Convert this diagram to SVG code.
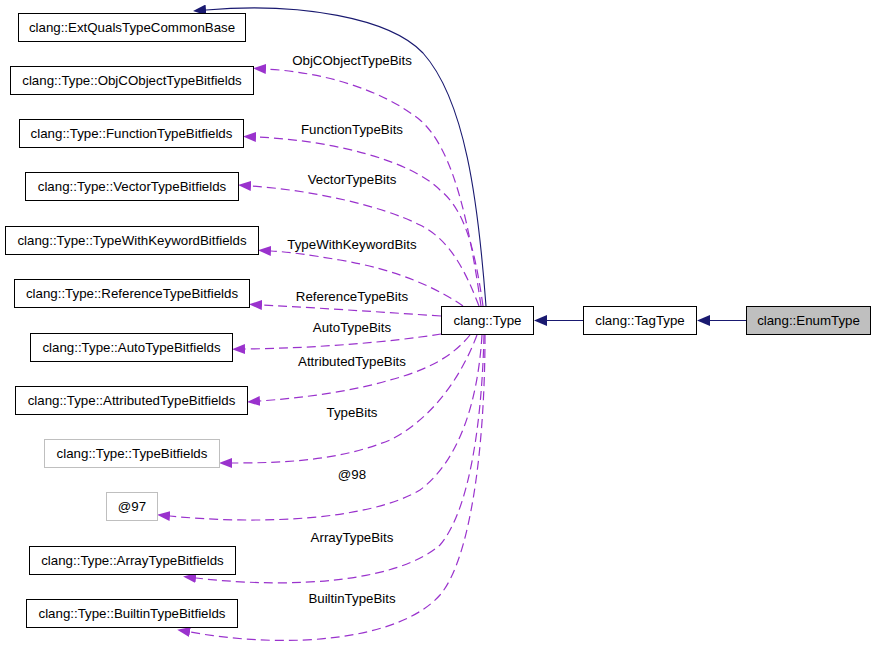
<svg xmlns="http://www.w3.org/2000/svg" width="877" height="651" viewBox="0 0 877 651">
<style>
text{font-family:"Liberation Sans",Arial,sans-serif;font-size:13.3px;fill:#000}
.n{text-anchor:middle}
.l{text-anchor:middle}
.b{fill:#fff;stroke:#000;stroke-width:1}
.g{fill:#fff;stroke:#bfbfbf;stroke-width:1}
.u{fill:none;stroke:#9a32cd;stroke-width:1.2;stroke-dasharray:9,5}
.s{fill:none;stroke:#191970;stroke-width:1.1}
</style>
<defs>
<marker id="ap" markerUnits="userSpaceOnUse" viewBox="0 0 13 10" refX="0" refY="5" markerWidth="13" markerHeight="10" orient="auto">
<path d="M0,0 L13,5 L0,10 z" fill="#9a32cd"/>
</marker>
<marker id="ab" markerUnits="userSpaceOnUse" viewBox="0 0 13 11" refX="0" refY="5.5" markerWidth="13" markerHeight="11" orient="auto">
<path d="M0,0 L13,5.5 L0,11 z" fill="#191970"/>
</marker>
</defs>
<rect width="877" height="651" fill="#fff"/>
<g id="edges">
<path class="s" marker-end="url(#ab)" d="M486,306 C478,200 465,100 423,53 C390,18 300,2 206,10"/>
<path class="s" marker-end="url(#ab)" d="M746,320.5 L710,320.5"/>
<path class="s" marker-end="url(#ab)" d="M583,320.5 L547,320.5"/>
<path class="u" marker-end="url(#ap)" d="M481,306 C470,230 455,150 420,120 C380,88 320,72 266,69"/>
<path class="u" marker-end="url(#ap)" d="M483,306 C475,250 465,210 440,190 C410,160 330,140 256,137"/>
<path class="u" marker-end="url(#ap)" d="M479,306 C465,270 450,240 420,225 C380,205 310,190 251,186"/>
<path class="u" marker-end="url(#ap)" d="M463,306 C440,290 400,270 340,260 C310,255 290,252 271,251"/>
<path class="u" marker-end="url(#ap)" d="M441,316 C380,312 320,308 262,305"/>
<path class="u" marker-end="url(#ap)" d="M441,334 C390,342 320,348 245,349"/>
<path class="u" marker-end="url(#ap)" d="M470,335 C450,360 420,372 390,380 C350,392 300,398 260,401"/>
<path class="u" marker-end="url(#ap)" d="M477,335 C460,380 430,420 390,440 C340,460 290,463 232,463"/>
<path class="u" marker-end="url(#ap)" d="M482,335 C478,400 460,460 420,490 C370,520 260,525 170,516"/>
<path class="u" marker-end="url(#ap)" d="M484,335 C482,420 470,510 440,545 C400,580 300,590 196,578"/>
<path class="u" marker-end="url(#ap)" d="M485,335 C485,450 470,560 440,595 C400,640 290,650 190,632"/>
<text class="l" x="352" y="65">ObjCObjectTypeBits</text>
<text class="l" x="352" y="133.5">FunctionTypeBits</text>
<text class="l" x="352" y="184">VectorTypeBits</text>
<text class="l" x="352" y="249">TypeWithKeywordBits</text>
<text class="l" x="352" y="300.5">ReferenceTypeBits</text>
<text class="l" x="352" y="332">AutoTypeBits</text>
<text class="l" x="352" y="365.5">AttributedTypeBits</text>
<text class="l" x="352" y="417">TypeBits</text>
<text class="l" x="352" y="479">@98</text>
<text class="l" x="352" y="541.5">ArrayTypeBits</text>
<text class="l" x="352" y="602.5">BuiltinTypeBits</text>
</g>
<g id="node-enumtype"><rect x="746.5" y="306.5" width="124" height="28" fill="#bfbfbf" stroke="#000"/><text class="n" x="808.5" y="325">clang::EnumType</text></g>
<g id="node-tagtype"><rect class="b" x="583.5" y="306.5" width="113" height="28"/><text class="n" x="640" y="325">clang::TagType</text></g>
<g id="node-type"><rect class="b" x="441.5" y="306.5" width="92" height="28"/><text class="n" x="487.5" y="325">clang::Type</text></g>
<g id="node-extquals"><rect class="b" x="18.5" y="13.5" width="227" height="28"/><text class="n" x="132" y="32">clang::ExtQualsTypeCommonBase</text></g>
<g id="node-objc"><rect class="b" x="10.5" y="66.5" width="243" height="28"/><text class="n" x="132" y="85">clang::Type::ObjCObjectTypeBitfields</text></g>
<g id="node-function"><rect class="b" x="19.5" y="119.5" width="224" height="28"/><text class="n" x="131.5" y="138">clang::Type::FunctionTypeBitfields</text></g>
<g id="node-vector"><rect class="b" x="25.5" y="172.5" width="213" height="28"/><text class="n" x="132" y="191">clang::Type::VectorTypeBitfields</text></g>
<g id="node-typewithkeyword"><rect class="b" x="5.5" y="226.5" width="253" height="28"/><text class="n" x="132" y="245">clang::Type::TypeWithKeywordBitfields</text></g>
<g id="node-reference"><rect class="b" x="14.5" y="279.5" width="235" height="28"/><text class="n" x="132" y="298">clang::Type::ReferenceTypeBitfields</text></g>
<g id="node-auto"><rect class="b" x="30.5" y="333.5" width="202" height="28"/><text class="n" x="131.5" y="352">clang::Type::AutoTypeBitfields</text></g>
<g id="node-attributed"><rect class="b" x="15.5" y="386.5" width="232" height="28"/><text class="n" x="131.5" y="405">clang::Type::AttributedTypeBitfields</text></g>
<g id="node-typebitfields"><rect class="g" x="44.5" y="439.5" width="175" height="28"/><text class="n" x="132" y="458">clang::Type::TypeBitfields</text></g>
<g id="node-97"><rect class="g" x="106.5" y="492.5" width="51" height="28"/><text class="n" x="132" y="511">@97</text></g>
<g id="node-array"><rect class="b" x="29.5" y="546.5" width="206" height="28"/><text class="n" x="132.5" y="565">clang::Type::ArrayTypeBitfields</text></g>
<g id="node-builtin"><rect class="b" x="26.5" y="599.5" width="211" height="28"/><text class="n" x="132" y="618">clang::Type::BuiltinTypeBitfields</text></g>
</svg>
